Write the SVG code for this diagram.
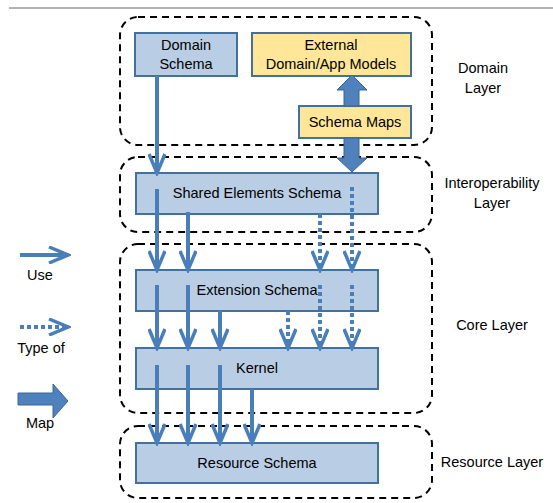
<svg xmlns="http://www.w3.org/2000/svg" width="553" height="503" viewBox="0 0 553 503">
  <defs>
    <marker id="chev" viewBox="0 0 24 18" refX="21" refY="9" markerWidth="24" markerHeight="18" markerUnits="userSpaceOnUse" orient="auto">
      <path d="M2,1 L21,9 L2,17" fill="none" stroke="#4A7EBB" stroke-width="3.5" stroke-linejoin="miter"/>
    </marker>
    <style>
      text { font-family: "Liberation Sans", Arial, sans-serif; font-size: 14.5px; fill: #000; text-anchor: middle; }
      .layer { fill: none; stroke: #000; stroke-width: 2; stroke-dasharray: 7 5; }
      .blue { fill: #B9CDE5; stroke: #41719C; stroke-width: 2; }
      .gold { fill: #FFE699; stroke: #41719C; stroke-width: 2; }
      .use { fill: none; stroke: #4A7EBB; stroke-width: 4; marker-end: url(#chev); }
      .typeof { fill: none; stroke: #4A7EBB; stroke-width: 4; stroke-dasharray: 4 3; marker-end: url(#chev); }
      .map { fill: #4F81BD; stroke: #3B6596; stroke-width: 1; }
    </style>
  </defs>

  <!-- frame rule -->
  <line x1="9" y1="8" x2="553" y2="8" stroke="#666" stroke-width="1"/>

  <!-- layer outlines -->
  <g id="layers">
    <rect id="domain-layer" class="layer" x="120" y="17" width="312" height="128" rx="18"/>
    <rect id="interop-layer" class="layer" x="120" y="157" width="312" height="75" rx="18"/>
    <rect id="core-layer" class="layer" x="120" y="244" width="312" height="169" rx="18"/>
    <rect id="resource-layer" class="layer" x="120" y="426" width="312" height="72" rx="18"/>
  </g>

  <!-- schema boxes -->
  <g id="domain-schema">
    <rect class="blue" x="135" y="33" width="102" height="43"/>
    <text x="186" y="50">Domain</text>
    <text x="186" y="69">Schema</text>
  </g>
  <g id="external-models">
    <rect class="gold" x="252" y="33" width="159" height="43"/>
    <text x="331" y="50">External</text>
    <text x="331" y="69">Domain/App Models</text>
  </g>
  <g id="schema-maps">
    <rect class="gold" x="299" y="106" width="112" height="32"/>
    <text x="355" y="127">Schema Maps</text>
  </g>
  <g id="shared-elements">
    <rect class="blue" x="136" y="173" width="242" height="41"/>
    <text x="257" y="198">Shared Elements Schema</text>
  </g>
  <g id="extension-schema">
    <rect class="blue" x="136" y="270" width="242" height="41"/>
    <text x="257" y="295">Extension Schema</text>
  </g>
  <g id="kernel">
    <rect class="blue" x="136" y="348" width="242" height="41"/>
    <text x="257" y="373">Kernel</text>
  </g>
  <g id="resource-schema">
    <rect class="blue" x="136" y="443" width="242" height="40"/>
    <text x="257" y="468">Resource Schema</text>
  </g>

  <!-- connectors -->
  <g id="connectors">
    <!-- domain schema to shared elements -->
    <path class="use" d="M157,76 V173"/>
    <!-- schema maps block arrows -->
    <path class="map" d="M344,106 V90 H337 L352,75 L367,90 H359 V106 Z"/>
    <path class="map" d="M344,138 V158 H337 L352,172 L367,158 H359 V138 Z"/>
    <!-- shared elements to extension -->
    <path class="use" d="M157,189 V270"/>
    <path class="use" d="M188,212 V270"/>
    <path class="typeof" d="M320,214 V270"/>
    <path class="typeof" d="M352,187 V270"/>
    <!-- extension to kernel -->
    <path class="use" d="M157,285 V348"/>
    <path class="use" d="M188,285 V348"/>
    <path class="use" d="M220,311 V348"/>
    <path class="typeof" d="M288,311 V348"/>
    <path class="typeof" d="M320,285 V348"/>
    <path class="typeof" d="M352,285 V348"/>
    <!-- kernel to resource -->
    <path class="use" d="M157,365 V443"/>
    <path class="use" d="M188,365 V443"/>
    <path class="use" d="M220,365 V443"/>
    <path class="use" d="M252,389 V443"/>
  </g>

  <!-- legend -->
  <g id="legend">
    <path class="use" d="M20,255 H68"/>
    <text x="40" y="280">Use</text>
    <path class="typeof" d="M20,327 H68"/>
    <text x="41" y="353">Type of</text>
    <path class="map" d="M18,393 H53 V384 L68,401 L53,418 V405 H18 Z"/>
    <text x="40" y="428">Map</text>
  </g>

  <!-- layer names -->
  <g id="layer-labels">
    <text x="483" y="73">Domain</text>
    <text x="483" y="93">Layer</text>
    <text x="492" y="188">Interoperability</text>
    <text x="492" y="208">Layer</text>
    <text x="492" y="330">Core Layer</text>
    <text x="492" y="467">Resource Layer</text>
  </g>
</svg>
